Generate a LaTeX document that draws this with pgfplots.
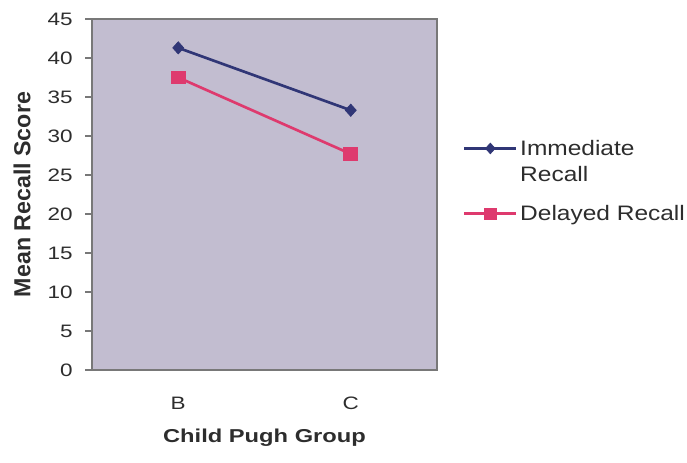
\documentclass[border=0pt]{standalone}
\usepackage{fontspec}
\setmainfont{Liberation Sans}
\newfontfamily\tickf[FakeStretch=1.25]{Liberation Sans}
\newfontfamily\titlef[FakeStretch=1.27]{Liberation Sans}
\newfontfamily\legf[FakeStretch=1.17]{Liberation Sans}
\usepackage{pgfplots}
\pgfplotsset{compat=1.18}
\definecolor{plotbg}{RGB}{194,189,208}
\definecolor{immblue}{RGB}{48,54,118}
\definecolor{delpink}{RGB}{222,58,110}
\definecolor{txt}{RGB}{45,45,45}
\definecolor{frame}{RGB}{120,120,120}

\begin{document}
\begin{tikzpicture}
\path[use as bounding box] (0pt,0pt) rectangle (515.25pt,347.25pt);
\begin{axis}[
  at={(69pt,69.75pt)}, anchor=south west,
  width=258.75pt, height=263.25pt, scale only axis,
  xmin=0.5, xmax=2.5, ymin=0, ymax=45,
  axis background/.style={fill=plotbg},
  axis line style={draw=frame, line width=0.8pt},
  ytick={0,5,...,45},
  xtick={1,2}, xticklabels={B,C},
  major x tick style={draw=none},
  extra x ticks={0.5,1.5,2.5}, extra x tick labels={},
  extra x tick style={tick style={draw=frame, line width=0.8pt}, major tick length=5pt},
  tick align=outside, major tick length=5pt,
  xtick pos=bottom, ytick pos=left,
  tick style={draw=frame, line width=0.8pt},
  /pgf/number format/assume math mode=true,
  ticklabel style={font=\tickf\fontsize{13.5}{16}\selectfont, text=txt},
  yticklabel style={xshift=-6pt},
  xticklabel style={yshift=-12pt},
  xlabel={Child Pugh Group},
  ylabel={Mean Recall Score},
  every axis x label/.style={at={(axis description cs:0.5,-0.194)}, anchor=center,
    font=\titlef\fontsize{14}{17}\selectfont\bfseries, text=txt},
  every axis y label/.style={at={(axis description cs:-0.203,0.5)}, anchor=center, rotate=90,
    font=\fontsize{17.4}{20}\selectfont\bfseries, text=txt},
  legend style={at={(axis description cs:1.075,0.664)}, anchor=north west,
    draw=none, fill=none, font=\legf\fontsize{15.7}{19}\selectfont, text=txt,
    row sep=32pt, inner sep=0pt},
  legend cell align=left,
  legend image code/.code={%
    \draw[mark repeat=2,mark phase=2,line width=1.8pt,mark size=4pt]
      plot coordinates {(0pt,0pt) (19.5pt,0pt) (39pt,0pt)};},
]
\addplot[color=immblue, line width=2pt, mark=diamond*, mark size=4.6pt,
  mark options={fill=immblue, draw=immblue, line width=0.5pt, xscale=1.2}]
  coordinates {(1,41.3) (2,33.3)};
\addlegendentry{\rlap{\raisebox{-20pt}[0pt][0pt]{Recall}}Immediate}
\addplot[color=delpink, line width=2pt, mark=square*, mark size=4.6pt,
  mark options={fill=delpink, draw=delpink, line width=0.5pt, xscale=1.15}]
  coordinates {(1,37.5) (2,27.7)};
\addlegendentry{Delayed Recall}
\end{axis}
\end{tikzpicture}
\end{document}
